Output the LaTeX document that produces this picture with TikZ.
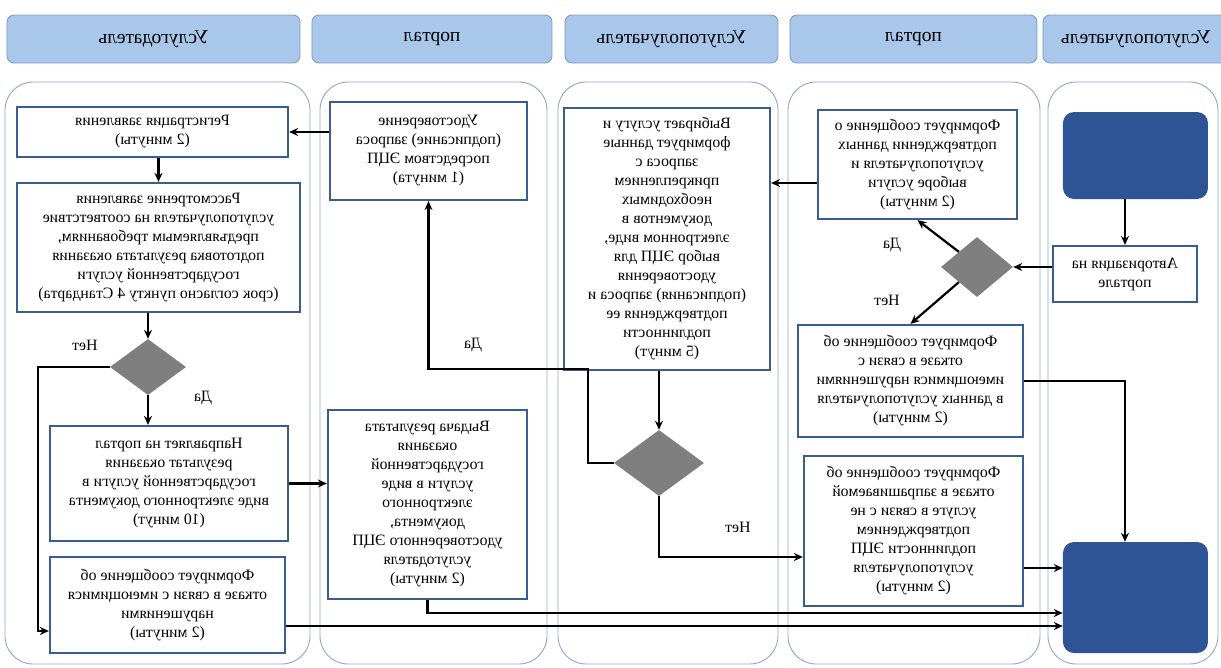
\documentclass[tikz,border=0pt]{standalone}
\usepackage{fontspec}
\setmainfont{Liberation Serif}
\usepackage{xcolor}
\usepackage{tikz}
\usetikzlibrary{positioning,arrows.meta,shapes.geometric}

\definecolor{lanecol}{HTML}{8DA6C9}
\definecolor{headfill}{HTML}{A9C7EA}
\definecolor{headdraw}{HTML}{7E9DC8}
\definecolor{boxdraw}{HTML}{3A5C8F}
\definecolor{termfill}{HTML}{2F5496}
\definecolor{diafill}{HTML}{7F7F7F}

\begin{document}
\begin{tikzpicture}[xscale=-1, transform shape, x=1pt, y=-1pt,
		>={Stealth[length=9pt,width=8pt]},
		every node/.style={font=\fontsize{15.8}{19}\selectfont},
		lane/.style={draw=lanecol, line width=0.9pt, rounded corners=28pt},
		head/.style={draw=headdraw, fill=headfill, rounded corners=7pt, line width=0.9pt, minimum height=48, font=\fontsize{19.5}{22}\selectfont},
		task/.style={draw=boxdraw, fill=white, line width=2.2pt, align=center, inner sep=2pt},
		decision/.style={diamond, fill=diafill, inner sep=0pt},
		terminal/.style={fill=termfill, rounded corners=11pt},
		flow/.style={->, line width=2.2pt}]
			\useasboundingbox (0,0) rectangle (1221,667);

			\draw[lane] (3,82) rectangle (173,664);
			\draw[lane] (181,82) rectangle (433,664);
			\draw[lane] (443,82) rectangle (663,664);
			\draw[lane] (674,82) rectangle (901,664);
			\draw[lane] (911,82) rectangle (1216,664);

			\node[head, minimum width=186] (h1) at (85,39) {Услугополучатель};
			\node[head, minimum width=247] (h2) at (307.5,39) {портал};
			\node[head, minimum width=213] (h3) at (549.5,39) {Услугополучатель};
			\node[head, minimum width=240] (h4) at (789,39) {портал};
			\node[head, minimum width=293] (h5) at (1067.5,39) {Услугодатель};

			\node[terminal, minimum width=145, minimum height=87] (start) at (85.5,155.5) {};
			\node[task, minimum width=144, minimum height=56] (auth) at (96,274) {Авторизация на\\портале};
			\node[terminal, minimum width=145, minimum height=111] (finish) at (85.5,597.5) {};

			\node[task, minimum width=199, minimum height=109] (confirm) at (303.5,164.5) {Формирует сообщение о\\подтверждении данных\\услугополучателя и\\выборе услуги\\(2 минуты)};
			\node[decision, minimum width=72, minimum height=60] (dec1) at (244,267) {};
			\node[task, minimum width=225, minimum height=112] (refuse1) at (310.5,381) {Формирует сообщение об\\отказе в связи с\\имеющимися нарушениями\\в данных услугополучателя\\(2 минуты)};
			\node[task, minimum width=219, minimum height=150] (refuse2) at (307.5,531) {Формирует сообщение об\\отказе в запрашиваемой\\услуге в связи с не\\подтверждением\\подлинности ЭЦП\\услугополучателя\\(2 минуты)};

			\node[task, minimum width=206, minimum height=262] (choose) at (554,239) {Выбирает услугу и\\формирует данные\\запроса с\\прикреплением\\необходимых\\документов в\\электронном виде,\\выбор ЭЦП для\\удостоверения\\(подписания) запроса и\\подтверждения ее\\подлинности\\(5 минут)};
			\node[decision, minimum width=90, minimum height=66] (dec2) at (562,463) {};

			\node[task, minimum width=197, minimum height=98] (sign) at (792.5,151) {Удостоверение\\(подписание) запроса\\посредством ЭЦП\\(1 минута)};
			\node[task, minimum width=199, minimum height=189] (issue) at (793.5,504.5) {Выдача результата\\оказания\\государственной\\услуги в виде\\электронного\\документа,\\удостоверенного ЭЦП\\услугодателя\\(2 минуты)};

			\node[task, minimum width=271, minimum height=50] (reg) at (1068.5,132) {Регистрация заявления\\(2 минуты)};
			\node[task, minimum width=283, minimum height=129] (review) at (1062.5,247.5) {Рассмотрение заявления\\услугополучателя на соответствие\\предъявляемым требованиям,\\подготовка результата оказания\\государственной услуги\\(срок согласно пункту 4 Стандарта)};
			\node[decision, minimum width=76, minimum height=56] (dec3) at (1073,367) {};
			\node[task, minimum width=238, minimum height=115] (send) at (1052,483.5) {Направляет на портал\\результат оказания\\государственной услуги в\\виде электронного документа\\(10 минут)};
			\node[task, minimum width=235, minimum height=96] (refuse3) at (1053.5,605) {Формирует сообщение об\\отказе в связи с имеющимися\\нарушениями\\(2 минуты)};

			\node (yes1) at (329,245) {Да};
			\node (no1) at (334,300) {Нет};
			\node (yes2) at (748,345) {Да};
			\node (no2) at (483,527) {Нет};
			\node (yes3) at (1018,398) {Да};
			\node (no3) at (1136,345) {Нет};
			\coordinate (bend2) at (633,369);

			\draw[flow] (start.south -| auth) -- (auth);
			\draw[flow] (auth.east |- dec1) -- (dec1);
			\draw[flow] (dec1.north east) -- (confirm.south);
			\draw[flow] (dec1.south east) -- (refuse1.north);
			\draw[flow] ([yshift=-18.5pt]confirm.east) -- ([yshift=-18.5pt]confirm.east -| choose.west);
			\draw[flow] (refuse1.west) -| (auth |- finish.north);

			\draw[flow] (choose.south -| dec2) -- (dec2);
			\draw[flow] (dec2.east) -| (bend2) -| (sign.south);
			\draw[flow] (dec2.south) |- ([yshift=-26pt]refuse2.east);

			\draw[flow] (sign.east |- reg) -- (reg);
			\draw[flow] (reg.south -| review) -- (review);
			\draw[flow] (review.south -| dec3) -- (dec3);
			\draw[flow] (dec3) -- (dec3 |- send.north);
			\draw[flow] (dec3.east) -- ++(72,0) |- ([yshift=-26pt]refuse3.east);
			\draw[flow] (send.west) -- (send.west -| issue.east);

			\draw[flow] (issue.south) |- ([yshift=-15.5pt]finish.east);
			\draw[flow] ([yshift=-21pt]refuse3.west) -- ([yshift=-21pt]refuse3.west -| finish.east);
			\draw[flow] ([yshift=-37pt]refuse2.west) -- ([yshift=-37pt]refuse2.west -| finish.east);
		\end{tikzpicture}
\end{document}
